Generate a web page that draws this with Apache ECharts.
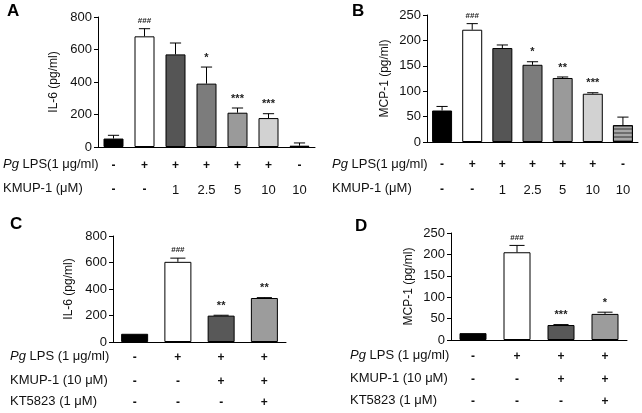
<!DOCTYPE html>
<html>
<head>
<meta charset="utf-8">
<script src="https://cdn.jsdelivr.net/npm/echarts@6/dist/echarts.min.js"></script>
<style>
html,body{margin:0;padding:0;background:#fff;}
#c{width:642px;height:413px;}
</style>
</head>
<body>
<div id="c"></div>
<script>
// ---- Data ----
const groupsAB = ['G1','G2','G3','G4','G5','G6','G7'];
const groupsCD = ['G1','G2','G3','G4'];

const lpsAB  = ['-','+','+','+','+','+','-'];
const kmupAB = ['-','-','1','2.5','5','10','10'];

const lpsCD  = ['-','+','+','+'];
const kmupCD = ['-','-','+','+'];
const ktCD   = ['-','-','-','+'];

const valA = [52, 681, 570, 390, 211, 178, 8];
const errA = [20, 47, 70, 102, 29, 27, 17];
const sigA = ['', '###', '', '*', '***', '***', ''];

const valB = [62, 221, 185, 152, 126, 95, 33];
const errB = [8, 12, 6, 6, 2, 2, 16];
const sigB = ['', '###', '', '*', '**', '***', ''];

const valC = [62, 605, 199, 332];
const errC = [0, 28, 3, 3];
const sigC = ['', '###', '**', '**'];

const valD = [16, 205, 35, 61];
const errD = [0, 16, 1, 4];
const sigD = ['', '###', '***', '*'];

const yTicksIL = {min:0, max:800, interval:200};
const yTicksMCP = {min:0, max:250, interval:50};

// styles (not data)
const colorsAB = ['#000000','#ffffff','#555555','#7c7c7c','#9a9a9a','#d2d2d2','#a8a8a8'];
const colorsCD = ['#000000','#ffffff','#585858','#9c9c9c'];

const FONT = 'Liberation Sans, Arial, sans-serif';

const grids = [
  {left:98,  top:17,  width:217, height:130},
  {left:427, top:15,  width:211, height:127},
  {left:113, top:236, width:173, height:106},
  {left:451, top:233, width:176, height:107}
];

const xAxis = [];
const yAxis = [];
const series = [];

function mainX(gi, cats){
  return {type:'category', gridIndex:gi, data:cats,
    axisLine:{lineStyle:{color:'#000', width:1}},
    axisTick:{alignWithLabel:true, length:4, lineStyle:{color:'#000'}},
    axisLabel:{show:false}};
}
function signX(gi, cats, offset){
  return {type:'category', gridIndex:gi, data:cats, position:'bottom', offset:offset,
    axisLine:{show:false}, axisTick:{show:false},
    axisLabel:{margin:0, interval:0, fontSize:13, color:'#111', fontFamily:FONT,
      formatter:function(v){ return (v==='+'||v==='-') ? '{s|'+v+'}' : '{n|'+v+'}'; },
      rich:{
        s:{fontSize:12, fontWeight:'bold', color:'#111', fontFamily:FONT, height:14, lineHeight:14},
        n:{fontSize:13, color:'#111', fontFamily:FONT, height:14, lineHeight:14}
      }}};
}
function mkY(gi, t, name, gap){
  return {type:'value', gridIndex:gi, min:t.min, max:t.max, interval:t.interval,
    splitLine:{show:false},
    axisLine:{show:true, lineStyle:{color:'#000', width:1}},
    axisTick:{show:true, length:4, lineStyle:{color:'#000'}},
    axisLabel:{fontSize:13, color:'#111', fontFamily:FONT, margin:6},
    name:name, nameLocation:'middle', nameGap:gap,
    nameTextStyle:{fontSize:12, color:'#111', fontFamily:FONT}};
}

function addPanel(gi, cats, vals, errs, sigs, colors, signRows, offsets, yt, yname, ygap, barW, stripeIdx){
  const xi0 = xAxis.length;
  xAxis.push(mainX(gi, cats));
  signRows.forEach((r,k)=>xAxis.push(signX(gi, r, offsets[k])));
  const yi = yAxis.length;
  yAxis.push(mkY(gi, yt, yname, ygap));
  series.push({
    type:'bar', xAxisIndex:xi0, yAxisIndex:yi, barWidth:barW,
    data: vals.map((v,i)=>{
      const it = {value:v, itemStyle:{color:colors[i], borderColor:'#000', borderWidth:1}};
      if (i === stripeIdx) {
        it.itemStyle.decal = {symbol:'rect', symbolSize:1, dashArrayX:[[1,0]], dashArrayY:[2,2], color:'rgba(60,60,60,0.55)', rotation:0};
      }
      return it;
    })
  });
  series.push({
    type:'custom', xAxisIndex:xi0, yAxisIndex:yi, z:5,
    data: vals.map((v,i)=>[i, v, errs[i]]),
    renderItem:function(params, api){
      const i = api.value(0), v = api.value(1), e = api.value(2);
      const b = api.coord([i, v]);
      const t = api.coord([i, v+e]);
      const hw = barW*0.28;
      const ch = [];
      if (e > 0) {
        ch.push({type:'line', shape:{x1:b[0], y1:b[1], x2:t[0], y2:t[1]}, style:{stroke:'#000', lineWidth:1}});
        ch.push({type:'line', shape:{x1:t[0]-hw, y1:t[1], x2:t[0]+hw, y2:t[1]}, style:{stroke:'#000', lineWidth:1}});
      }
      const s = sigs[params.dataIndex];
      if (s) {
        ch.push({type:'text', x:t[0], y:t[1]-4, style:{text:s, align:'center', verticalAlign:'bottom',
          fontSize: s[0]==='#' ? 8 : 11, fontWeight:'bold', fontFamily:FONT, fill:'#222'}});
      }
      return {type:'group', children:ch};
    }
  });
}

addPanel(0, groupsAB, valA, errA, sigA, colorsAB, [lpsAB, kmupAB], [12, 36], yTicksIL, 'IL-6 (pg/ml)', 38, 20, -1);
addPanel(1, groupsAB, valB, errB, sigB, colorsAB, [lpsAB, kmupAB], [16, 41], yTicksMCP, 'MCP-1 (pg/ml)', 36, 20, 6);
addPanel(2, groupsCD, valC, errC, sigC, colorsCD, [lpsCD, kmupCD, ktCD], [9, 33, 54], yTicksIL, 'IL-6 (pg/ml)', 38, 27, -1);
addPanel(3, groupsCD, valD, errD, sigD, colorsCD, [lpsCD, kmupCD, ktCD], [10, 33, 55], yTicksMCP, 'MCP-1 (pg/ml)', 36, 27, -1);

function rowText(x, y, txt){
  return {type:'text', left:x, top:y-8, style:{text:txt, fontSize:13, fontFamily:FONT, fill:'#111',
    rich:{i:{fontStyle:'italic', fontSize:13, fontFamily:FONT, fill:'#111'}, n:{fontSize:13, fontFamily:FONT, fill:'#111'}}}};
}
function letter(x, y, t){
  return {type:'text', left:x, top:y-9, style:{text:t, fontSize:17, fontWeight:'bold', fontFamily:FONT, fill:'#000'}};
}

const graphic = [
  letter(7, 12, 'A'), letter(352, 12, 'B'), letter(10, 225, 'C'), letter(355, 227, 'D'),
  rowText(3, 166, '{i|Pg}{n| LPS(1 μg/ml)}'),
  rowText(3, 190, 'KMUP-1 (μM)'),
  rowText(332, 166, '{i|Pg}{n| LPS(1 μg/ml)}'),
  rowText(332, 190, 'KMUP-1 (μM)'),
  rowText(10, 358, '{i|Pg}{n| LPS (1 μg/ml)}'),
  rowText(10, 382, 'KMUP-1 (10 μM)'),
  rowText(10, 403, 'KT5823 (1 μM)'),
  rowText(350, 357, '{i|Pg}{n| LPS (1 μg/ml)}'),
  rowText(350, 380, 'KMUP-1 (10 μM)'),
  rowText(350, 402, 'KT5823 (1 μM)')
];

const chart = echarts.init(document.getElementById('c'), null, {renderer:'canvas'});
chart.setOption({
  animation:false,
  backgroundColor:'#fff',
  grid: grids,
  xAxis: xAxis,
  yAxis: yAxis,
  series: series,
  graphic: graphic
});
</script>
</body>
</html>
